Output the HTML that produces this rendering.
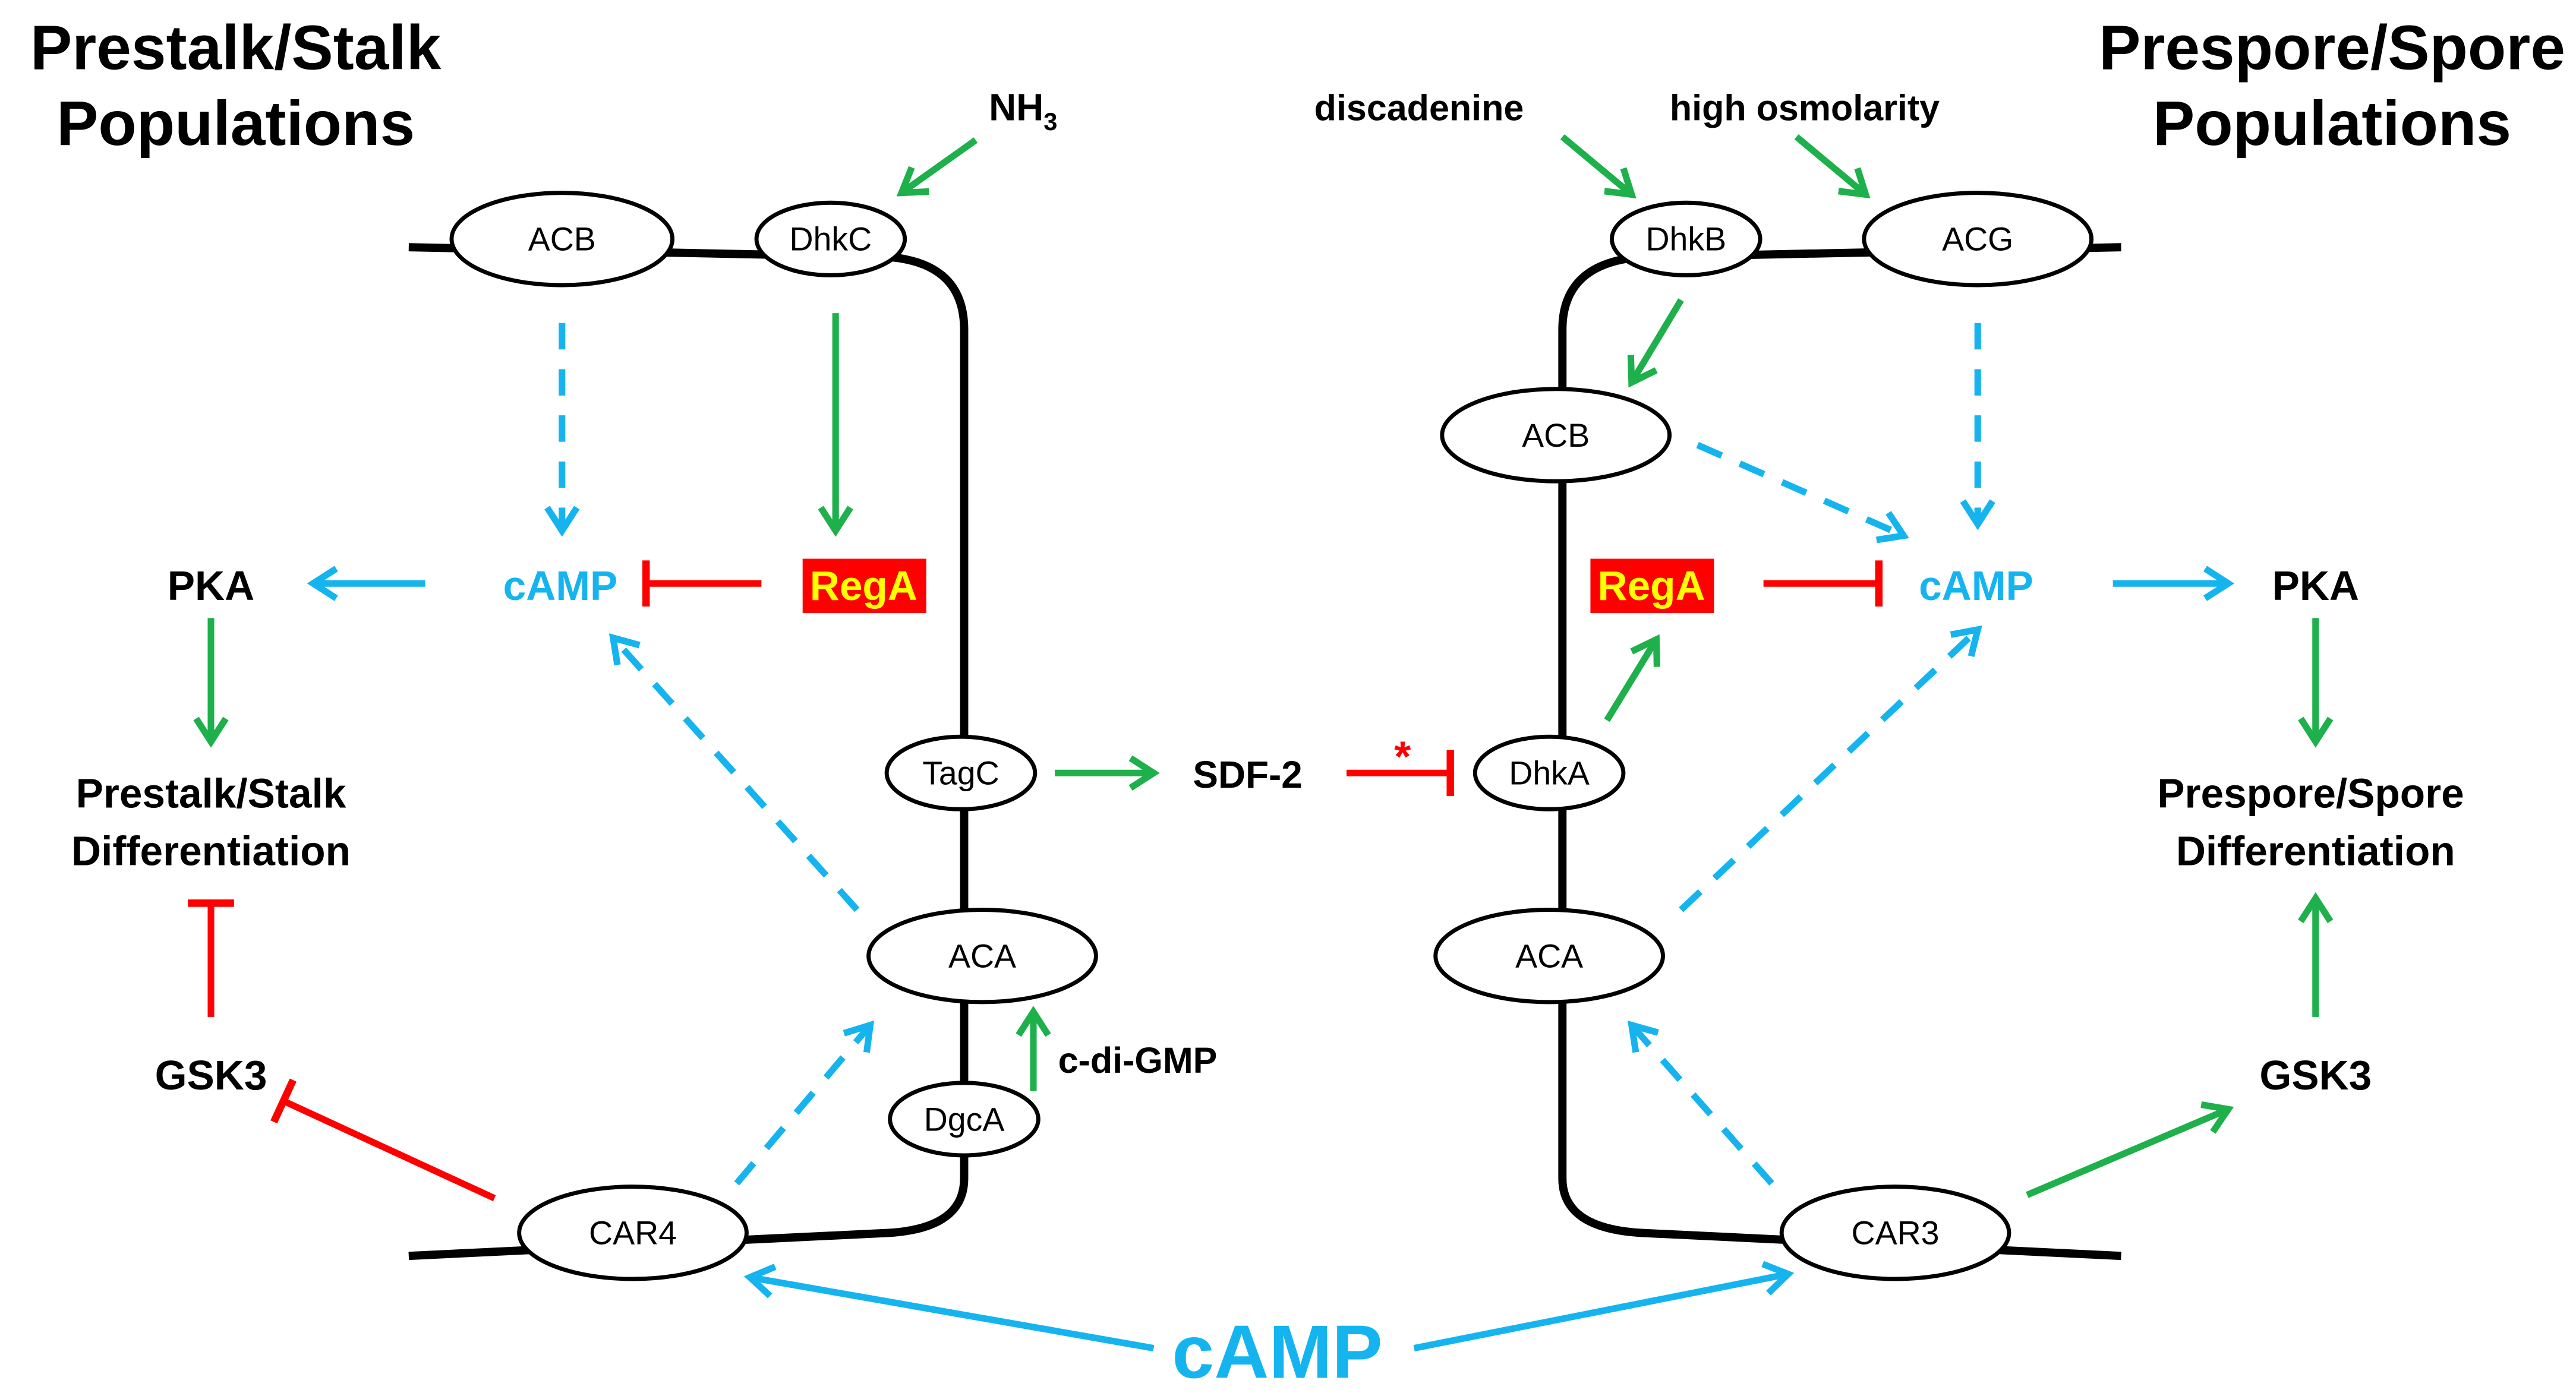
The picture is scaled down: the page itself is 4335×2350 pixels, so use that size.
<!DOCTYPE html>
<html><head><meta charset="utf-8"><style>
html,body{margin:0;padding:0;background:#fff;}
svg{display:block;}
text{font-family:"Liberation Sans",Arial,sans-serif;}
</style></head><body>
<svg width="4335" height="2350" viewBox="0 0 1563 847" preserveAspectRatio="none" xmlns="http://www.w3.org/2000/svg">
<defs>
<marker id="g" refX="15" refY="10" markerWidth="40" markerHeight="40" markerUnits="userSpaceOnUse" orient="auto" overflow="visible">
<path d="M1,1 L15,10 L1,19" fill="none" stroke="#1db04b" stroke-width="4"/></marker>
<marker id="b" refX="15" refY="10" markerWidth="40" markerHeight="40" markerUnits="userSpaceOnUse" orient="auto" overflow="visible">
<path d="M1,1 L15,10 L1,19" fill="none" stroke="#16b4ee" stroke-width="4"/></marker>
<marker id="r" refX="2" refY="14" markerWidth="10" markerHeight="30" markerUnits="userSpaceOnUse" orient="auto" overflow="visible">
<path d="M2,0 L2,28" stroke="#f00" stroke-width="4.5"/></marker>
</defs>
<g fill="none" stroke="#000" stroke-width="5">
<path d="M248,150 L540,156 Q585,160 585,200 L585,715 Q585,745 540,748 L248,762"/>
<path d="M1287,150 L995,156 Q948,160 948,200 L948,715 Q948,745 995,748 L1287,762"/>
</g>
<g fill="#fff" stroke="#000" stroke-width="2.5">
<ellipse cx="341" cy="145" rx="67" ry="28"/><ellipse cx="504" cy="145" rx="45" ry="22"/>
<ellipse cx="583" cy="469" rx="45" ry="22"/><ellipse cx="596" cy="580" rx="69" ry="28"/>
<ellipse cx="585" cy="679" rx="45" ry="22"/><ellipse cx="384" cy="748" rx="69" ry="28"/>
<ellipse cx="1023" cy="145" rx="45" ry="22"/><ellipse cx="1200" cy="145" rx="69" ry="28"/>
<ellipse cx="944" cy="264" rx="69" ry="28"/><ellipse cx="940" cy="469" rx="45" ry="22"/>
<ellipse cx="940" cy="580" rx="69" ry="28"/><ellipse cx="1150" cy="748" rx="69" ry="28"/>
</g>
<g font-size="20" text-anchor="middle" fill="#000">
<text x="341" y="152">ACB</text><text x="504" y="152">DhkC</text><text x="583" y="476">TagC</text>
<text x="596" y="587">ACA</text><text x="585" y="686">DgcA</text><text x="384" y="755">CAR4</text>
<text x="1023" y="152">DhkB</text><text x="1200" y="152">ACG</text><text x="944" y="271">ACB</text>
<text x="940" y="476">DhkA</text><text x="940" y="587">ACA</text><text x="1150" y="755">CAR3</text>
</g>
<g stroke="#1db04b" stroke-width="4" fill="none" marker-end="url(#g)">
<path d="M592,85 L547,117"/><path d="M507,190 L507,322"/><path d="M128,375 L128,450"/>
<path d="M627,662 L627,614"/><path d="M640,469 L700,469"/><path d="M975,437 L1005,388"/>
<path d="M1405,375 L1405,450"/><path d="M1405,617 L1405,545"/><path d="M1230,725 L1352,673"/>
<path d="M948,83 L990,118"/><path d="M1090,83 L1132,118"/><path d="M1020,182 L990,232"/>
</g>
<g stroke="#16b4ee" stroke-width="4" fill="none" marker-end="url(#b)">
<path d="M258,354 L190,354"/><path d="M1282,354 L1352,354"/>
<path d="M700,818 L455,775"/><path d="M858,818 L1085,773"/>
</g>
<g stroke="#16b4ee" stroke-width="4" fill="none" stroke-dasharray="16,12" marker-end="url(#b)">
<path d="M341,196 L341,322"/><path d="M447,718 L528,622"/><path d="M520,552 L372,387"/>
<path d="M1075,718 L990,622"/><path d="M1020,552 L1200,382"/><path d="M1030,270 L1155,325"/>
<path d="M1200,196 L1200,318"/>
</g>
<g stroke="#f00" stroke-width="4" fill="none" marker-end="url(#r)">
<path d="M462,354 L392,354"/><path d="M128,617 L128,548"/><path d="M300,727 L172,668"/>
<path d="M817,469 L880,469"/><path d="M1070,354 L1140,354"/>
</g>
<rect x="487" y="339" width="75" height="33" fill="#f00"/>
<rect x="965" y="339" width="75" height="33" fill="#f00"/>
<g font-weight="bold" text-anchor="middle">
<text x="524" y="364" font-size="25" fill="#ff0">RegA</text>
<text x="1002" y="364" font-size="25" fill="#ff0">RegA</text>
<text x="340" y="364" font-size="25" fill="#16b4ee">cAMP</text>
<text x="1199" y="364" font-size="25" fill="#16b4ee">cAMP</text>
<text x="775" y="836" font-size="46" fill="#16b4ee">cAMP</text>
<text x="128" y="364" font-size="25">PKA</text><text x="1405" y="364" font-size="25">PKA</text>
<text x="128" y="661" font-size="25">GSK3</text><text x="1405" y="661" font-size="25">GSK3</text>
<text x="128" y="490" font-size="25">Prestalk/Stalk</text><text x="128" y="525" font-size="25">Differentiation</text>
<text x="1402" y="490" font-size="25">Prespore/Spore</text><text x="1405" y="525" font-size="25">Differentiation</text>
<text x="757" y="478" font-size="23">SDF-2</text>
<text x="143" y="42" font-size="38">Prestalk/Stalk</text><text x="143" y="88" font-size="38">Populations</text>
<text x="1415" y="42" font-size="38">Prespore/Spore</text><text x="1415" y="88" font-size="38">Populations</text>
<text x="600" y="73" font-size="23" text-anchor="start">NH<tspan font-size="15" dy="6">3</tspan></text>
<text x="861" y="73" font-size="22">discadenine</text>
<text x="1095" y="73" font-size="22">high osmolarity</text>
<text x="642" y="651" font-size="22" text-anchor="start">c-di-GMP</text>
<text x="851" y="468" font-size="26" fill="#f00">*</text>
</g>
</svg>
</body></html>
